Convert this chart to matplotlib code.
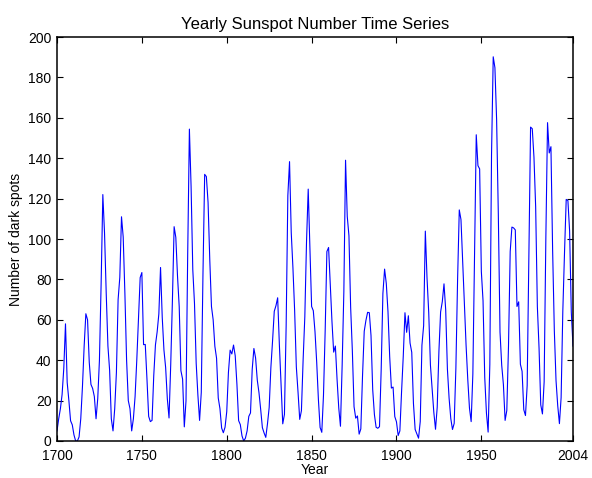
import numpy as np
import matplotlib
matplotlib.use("Agg")
import matplotlib.pyplot as plt

# yearly sunspot numbers, 1700-2004
years = list(range(1700, 2005))
spots = [
    5, 11, 16, 23, 36, 58, 29, 20, 10, 8,
    3, 0, 0, 2, 11, 27, 47, 63, 60, 39,
    28, 26, 22, 11, 21, 40, 78, 122, 103, 73,
    47, 35, 11, 5, 16, 34, 70, 81, 111, 101,
    73, 40, 20, 16, 5, 11, 22, 40, 60, 80.9,
    83.4, 47.7, 47.8, 30.7, 12.2, 9.6, 10.2, 32.4, 47.6, 54,
    62.9, 85.9, 61.2, 45.1, 36.4, 20.9, 11.4, 37.8, 69.8, 106.1,
    100.8, 81.6, 66.5, 34.8, 30.6, 7, 19.8, 92.5, 154.4, 125.9,
    84.8, 68.1, 38.5, 22.8, 10.2, 24.1, 82.9, 132, 130.9, 118.1,
    89.9, 66.6, 60, 46.9, 41, 21.3, 16, 6.4, 4.1, 6.8,
    14.5, 34, 45, 43.1, 47.5, 42.2, 28.1, 10.1, 8.1, 2.5,
    0, 1.4, 5, 12.2, 13.9, 35.4, 45.8, 41.1, 30.1, 23.9,
    15.6, 6.6, 4, 1.8, 8.5, 16.6, 36.3, 49.6, 64.2, 67,
    70.9, 47.8, 27.5, 8.5, 13.2, 56.9, 121.5, 138.3, 103.2, 85.7,
    64.6, 36.7, 24.2, 10.7, 15, 40.1, 61.5, 98.5, 124.7, 96.3,
    66.6, 64.5, 54.1, 39, 20.6, 6.7, 4.3, 22.7, 54.8, 93.8,
    95.8, 77.2, 59.1, 44, 47, 30.5, 16.3, 7.3, 37.6, 74,
    139, 111.2, 101.6, 66.2, 44.7, 17, 11.3, 12.4, 3.4, 6,
    32.3, 54.3, 59.7, 63.7, 63.5, 52.2, 25.4, 13.1, 6.8, 6.3,
    7.1, 35.6, 73, 85.1, 78, 64, 41.8, 26.2, 26.7, 12.1,
    9.5, 2.7, 5, 24.4, 42, 63.5, 53.8, 62, 48.5, 43.9,
    18.6, 5.7, 3.6, 1.4, 9.6, 47.4, 57.1, 103.9, 80.6, 63.6,
    37.6, 26.1, 14.2, 5.8, 16.7, 44.3, 63.9, 69, 77.8, 64.9,
    35.7, 21.2, 11.1, 5.7, 8.7, 36.1, 79.7, 114.4, 109.6, 88.8,
    67.8, 47.5, 30.6, 16.3, 9.6, 33.2, 92.6, 151.6, 136.3, 134.7,
    83.9, 69.4, 31.5, 13.9, 4.4, 38, 141.7, 190.2, 184.8, 159,
    112.3, 53.9, 37.5, 27.9, 10.2, 15.1, 47, 93.8, 105.9, 105.5,
    104.5, 66.6, 68.9, 38, 34.5, 15.5, 12.6, 27.5, 92.5, 155.4,
    154.6, 140.5, 115.9, 66.6, 45.9, 17.9, 13.4, 29.3, 100.2, 157.6,
    142.6, 145.7, 94.3, 54.6, 29.9, 17.5, 8.6, 21.5, 64.3, 93.3,
    119.6, 119.0, 104.0, 63.7, 47.0,
]
xticks = [1700, 1750, 1800, 1850, 1900, 1950, 2004]
yticks = list(range(0, 201, 20))

plt.rcParams['font.family'] = ['Liberation Sans', 'DejaVu Sans']

fig = plt.figure(figsize=(5.92, 4.78), dpi=100)
ax = fig.add_axes([57 / 592, 37 / 478, 516 / 592, 404 / 478])
ax.plot(years, spots, color=(0, 0, 1), linewidth=0.8)
ax.set_xlim(1700, 2004)
ax.set_ylim(0, 200)
ax.set_xticks(xticks)
ax.set_yticks(yticks)
ax.tick_params(direction='in', length=4, width=0.8, top=True, right=True,
               labelsize=10)
ax.tick_params(axis='x', pad=5.5)
ax.tick_params(axis='y', pad=4)
for s in ax.spines.values():
    s.set_linewidth(1.1)
ax.set_xlabel("Year", fontsize=10, labelpad=0)
ax.set_ylabel("Number of dark spots", fontsize=10, labelpad=4)
ax.set_title("Yearly Sunspot Number Time Series", fontsize=12, pad=6)

fig.savefig("out.png", dpi=100)
